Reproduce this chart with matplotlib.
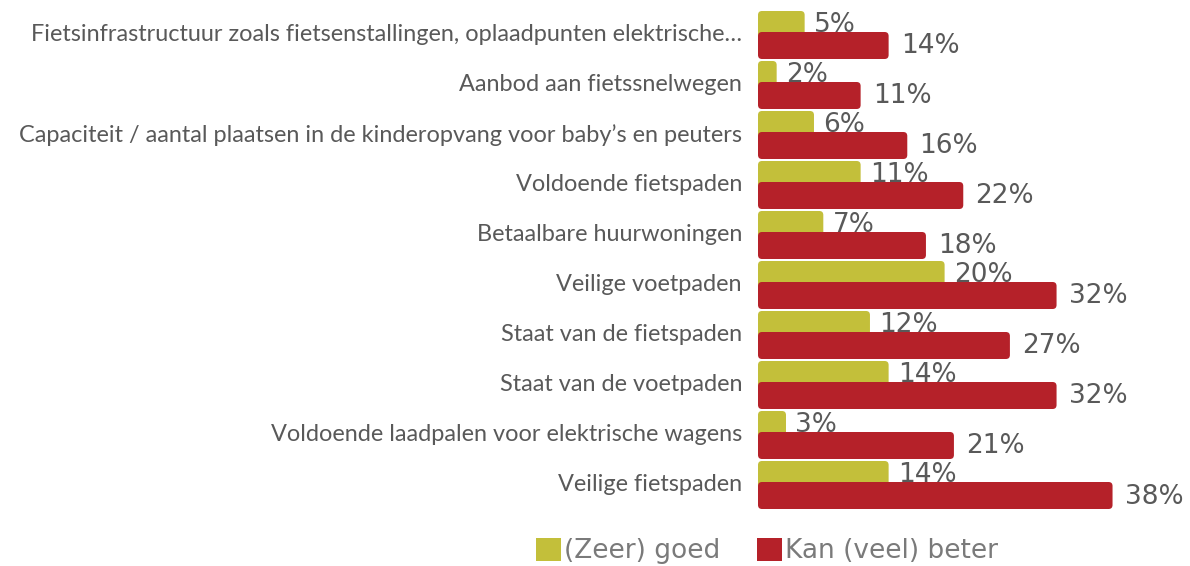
import matplotlib
matplotlib.use("Agg")
import matplotlib.pyplot as plt
from matplotlib.patches import FancyBboxPatch, Patch
import numpy as np

categories = [
    "Fietsinfrastructuur zoals fietsenstallingen, oplaadpunten elektrische\u2026",
    "Aanbod aan fietssnelwegen",
    "Capaciteit / aantal plaatsen in de kinderopvang voor baby\u2019s en peuters",
    "Voldoende fietspaden",
    "Betaalbare huurwoningen",
    "Veilige voetpaden",
    "Staat van de fietspaden",
    "Staat van de voetpaden",
    "Voldoende laadpalen voor elektrische wagens",
    "Veilige fietspaden",
]
goed = [5, 2, 6, 11, 7, 20, 12, 14, 3, 14]
beter = [14, 11, 16, 22, 18, 32, 27, 32, 21, 38]
series_names = ["(Zeer) goed", "Kan (veel) beter"]

COL_GOED = "#C3BF3A"
COL_BETER = "#B52129"
TEXT = "#595959"
LEGEND_TEXT = "#7A7A7A"

W, H, DPI = 1190, 566, 100
fig = plt.figure(figsize=(W / DPI, H / DPI), dpi=DPI)

ax_left, ax_top, ax_bottom = 758, 0, 520
ax = fig.add_axes([ax_left / W, 1 - ax_bottom / H, 1 - ax_left / W, (ax_bottom - ax_top) / H])
ax.set_xlim(0, (W - ax_left) / 9.33)
ax.set_ylim(9.7, -0.7)
ax.axis("off")

y = np.arange(len(categories))
bar_h = 0.54
offset = 0.21

b1 = ax.barh(y - offset, goed, height=bar_h, color=COL_GOED, zorder=2)
b2 = ax.barh(y + offset, beter, height=bar_h, color=COL_BETER, zorder=3)

# swap the plain rectangles for rounded ones with the same extents
px_x = 9.33
px_y = 50.0
rad_px = 4.0
for bars in (b1, b2):
    for r in bars:
        x0, y0 = r.get_x(), r.get_y()
        w, h = r.get_width(), r.get_height()
        fb = FancyBboxPatch((x0, y0), w, h,
                            boxstyle=f"round,pad=0,rounding_size={rad_px / px_x}",
                            mutation_aspect=px_x / px_y,
                            facecolor=r.get_facecolor(), edgecolor="none",
                            zorder=r.get_zorder())
        r.set_visible(False)
        ax.add_patch(fb)

val_font = dict(family="DejaVu Sans", fontsize=19, color=TEXT, va="center", ha="left", zorder=5)
for yi, v in zip(y, goed):
    ax.text(v + 1.0, yi - offset + 0.02, f"{v}%", **val_font)
for yi, v in zip(y, beter):
    ax.text(v + 1.3, yi + offset + 0.02, f"{v}%", **val_font)

for yi, c in zip(y, categories):
    ax.text(-16 / px_x, yi, c, ha="right", va="center", fontsize=16.9,
            family="Lato", color=TEXT)

handles = [Patch(facecolor=COL_GOED, edgecolor="none"),
           Patch(facecolor=COL_BETER, edgecolor="none")]
leg = fig.legend(handles, series_names, loc="center",
                 bbox_to_anchor=(767 / W, 1 - 551 / H), ncol=2, frameon=False,
                 prop=dict(family="DejaVu Sans", size=19), handlelength=0.95,
                 handleheight=0.95, handletextpad=0.1, columnspacing=1.4)
for t in leg.get_texts():
    t.set_color(LEGEND_TEXT)

fig.savefig("out.png", dpi=DPI)
